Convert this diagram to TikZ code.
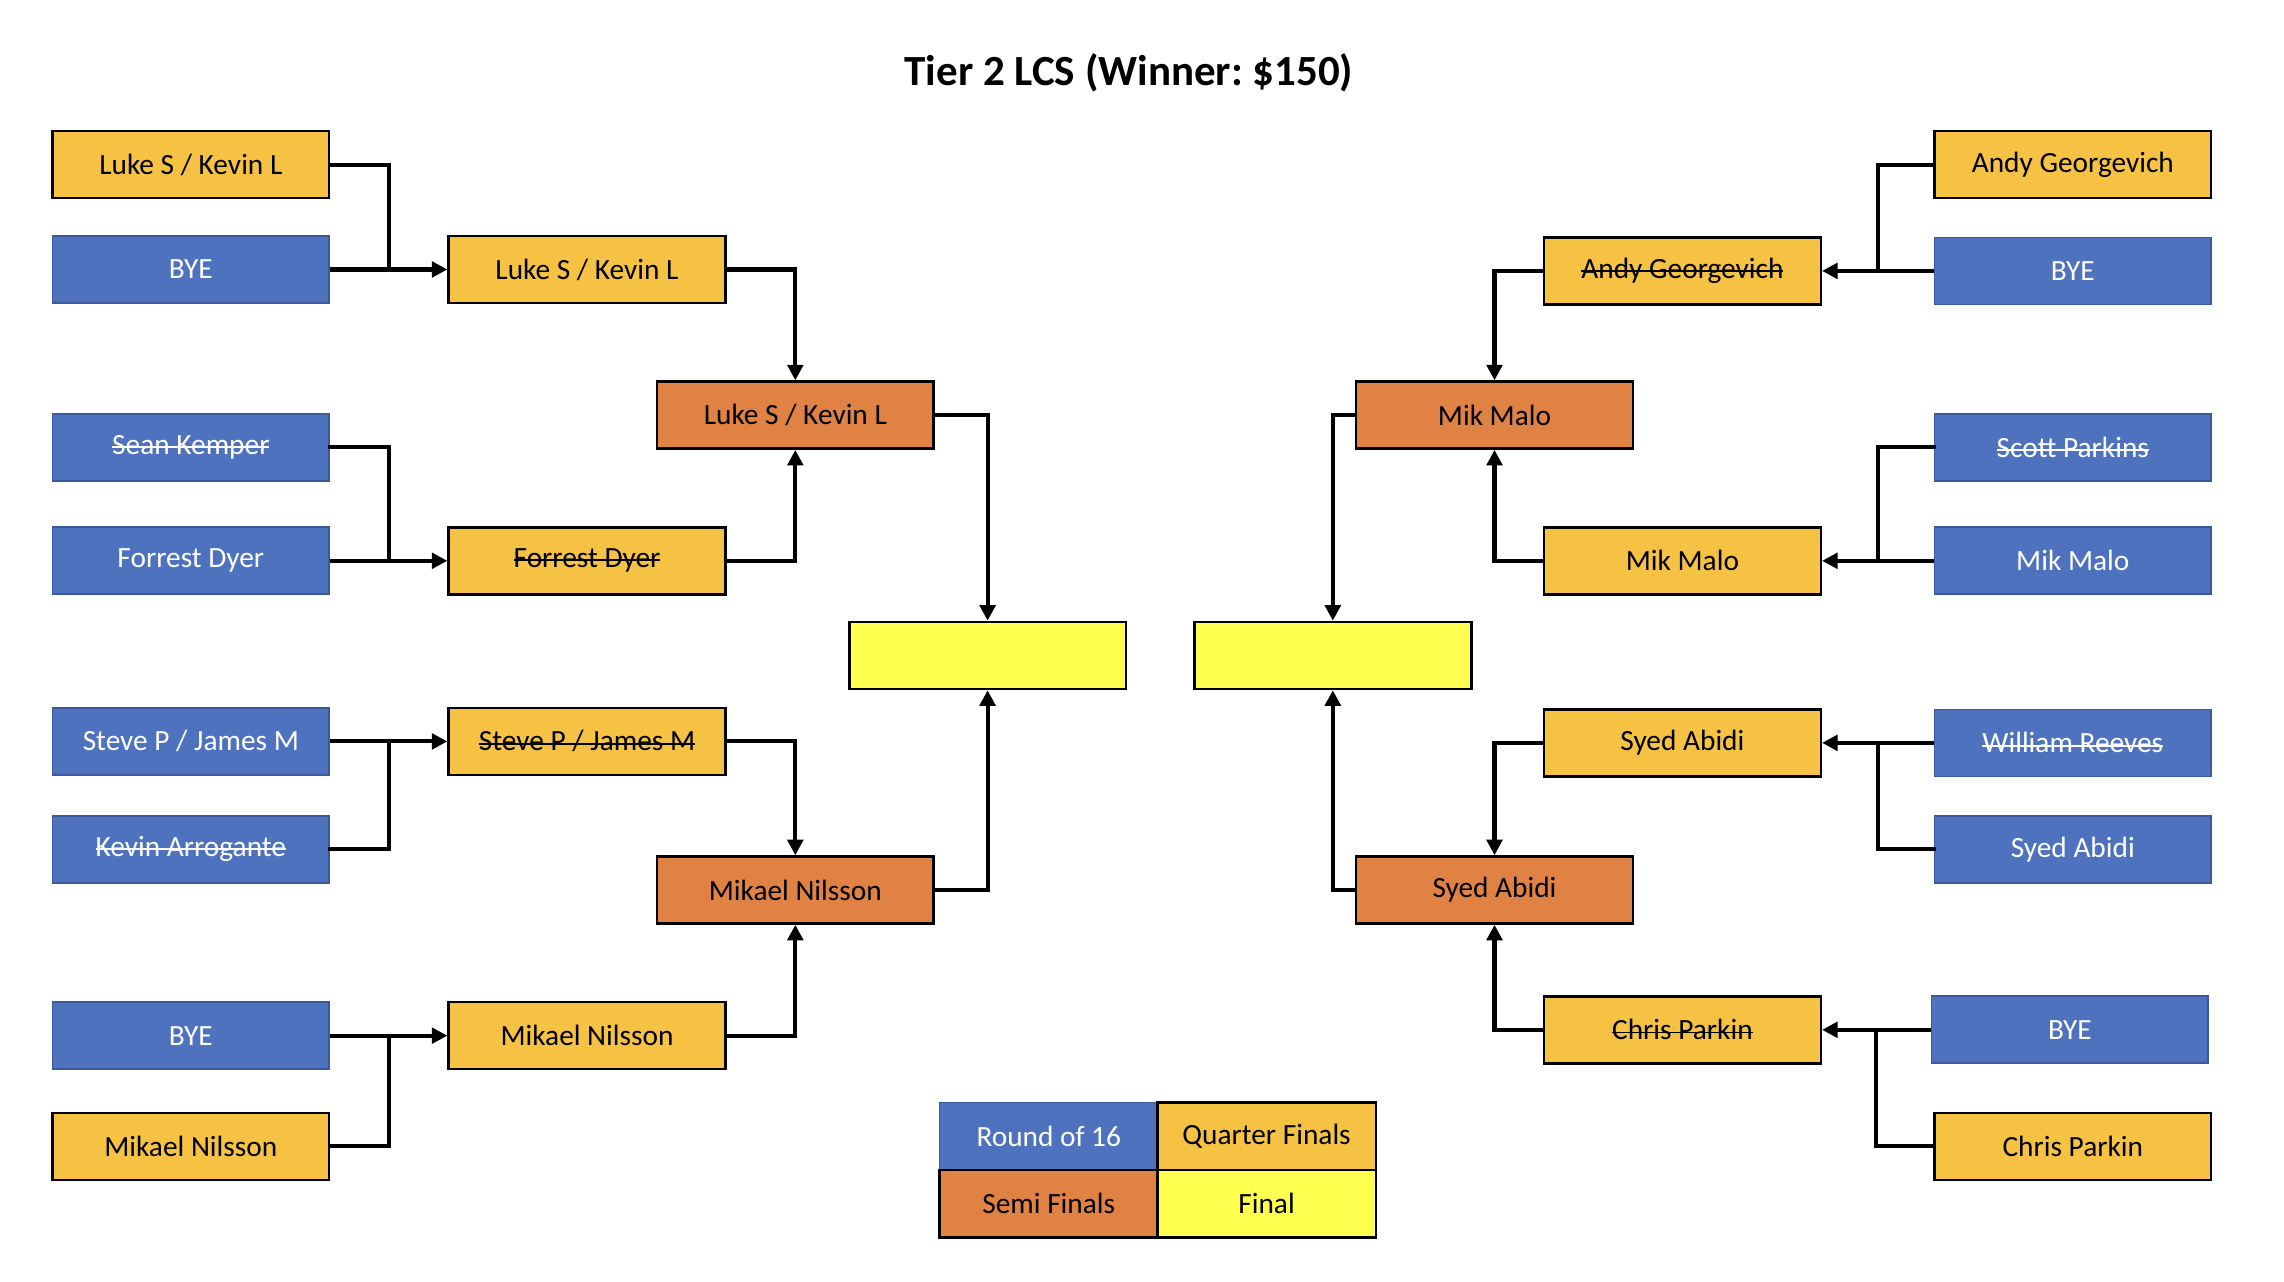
\documentclass[tikz,border=0pt]{standalone}
\usepackage{fontspec}
\setmainfont{Carlito}
\usepackage{tikz}
\usetikzlibrary{arrows.meta,positioning,calc}
\definecolor{brblue}{HTML}{4E72BE}
\definecolor{brblueline}{HTML}{3A5A9C}
\definecolor{brgold}{HTML}{F5C243}
\definecolor{brorange}{HTML}{E08244}
\definecolor{bryellow}{HTML}{FFFF50}
\newcommand{\struck}[1]{\leavevmode\setbox0\hbox{#1}\rlap{\raisebox{0.22em}{\rule{\wd0}{0.065em}}}\box0}
\frenchspacing

\begin{document}
\begin{tikzpicture}[x=0.03cm, y=-0.03cm, font=\fontsize{17.2}{20}\selectfont,
  slot/.style={rectangle, minimum width=5.7cm, minimum height=1.38cm, inner sep=0pt, line width=1.5pt, draw=black},
  rdsixteen/.style={slot, fill=brblue, draw=brblueline, line width=1pt, text=white},
  rdquarter/.style={slot, fill=brgold},
  rdsemi/.style={slot, fill=brorange},
  rdfinal/.style={slot, fill=bryellow},
  legcell/.style={minimum width=4.5cm, minimum height=1.39cm},
  link/.style={line width=2.4pt, line cap=rect},
  arr/.style={line width=2.4pt, -{Triangle[length=0.32cm,width=0.32cm]}}]
\useasboundingbox (0,0) rectangle (1568,880);
\node[font=\fontsize{25.2}{30}\selectfont\bfseries] (title) at (775,50) {Tier 2 LCS (Winner: \$150)};

\node[rdquarter] (l1) at (131,113) {Luke S / Kevin L};
\node[rdsixteen] (l2) at (131,185) {BYE};
\node[rdsixteen] (l3) at (131,307) {\struck{Sean Kemper}};
\node[rdsixteen] (l4) at (131,385) {Forrest Dyer};
\node[rdsixteen] (l5) at (131,509) {Steve P / James M};
\node[rdsixteen] (l6) at (131,583) {\struck{Kevin Arrogante}};
\node[rdsixteen] (l7) at (131,711) {BYE};
\node[rdquarter] (l8) at (131,787) {Mikael Nilsson};

\node[rdquarter] (lq1) at (403,185) {Luke S / Kevin L};
\node[rdquarter] (lq2) at (403,385) {\struck{Forrest Dyer}};
\node[rdquarter] (lq3) at (403,509) {\struck{Steve P / James M}};
\node[rdquarter] (lq4) at (403,711) {Mikael Nilsson};

\node[rdsemi] (ls1) at (546,285) {Luke S / Kevin L};
\node[rdsemi] (ls2) at (546,611) {Mikael Nilsson};

\node[rdfinal] (lf) at (678,450) {};
\node[rdfinal] (rf) at (915,450) {};

\node[rdsemi] (rs1) at (1026,285) {Mik Malo};
\node[rdsemi] (rs2) at (1026,611) {Syed Abidi};

\node[rdquarter] (rq1) at (1155,186) {\struck{Andy Georgevich}};
\node[rdquarter] (rq2) at (1155,385) {Mik Malo};
\node[rdquarter] (rq3) at (1155,510) {Syed Abidi};
\node[rdquarter] (rq4) at (1155,707) {\struck{Chris Parkin}};

\node[rdquarter] (r1) at (1423,113) {Andy Georgevich};
\node[rdsixteen] (r2) at (1423,186) {BYE};
\node[rdsixteen] (r3) at (1423,307) {\struck{Scott Parkins}};
\node[rdsixteen] (r4) at (1423,385) {Mik Malo};
\node[rdsixteen] (r5) at (1423,510) {\struck{William Reeves}};
\node[rdsixteen] (r6) at (1423,583) {Syed Abidi};
\node[rdsixteen] (r7) at (1421,707) {BYE};
\node[rdquarter] (r8) at (1423,787) {Chris Parkin};

\draw[link] (l1.east) -| ($(l2.east)!.5!(lq1.west)$);
\draw[arr] (l2.east) -- (lq1.west);
\draw[link] (l3.east) -| ($(l4.east)!.5!(lq2.west)$);
\draw[arr] (l4.east) -- (lq2.west);
\draw[arr] (l5.east) -- (lq3.west);
\draw[link] (l6.east) -| ($(l5.east)!.5!(lq3.west)$);
\draw[arr] (l7.east) -- (lq4.west);
\draw[link] (l8.east) -| ($(l7.east)!.5!(lq4.west)$);
\draw[arr] (lq1.east) -| (ls1.north);
\draw[arr] (lq2.east) -| (ls1.south);
\draw[arr] (lq3.east) -| (ls2.north);
\draw[arr] (lq4.east) -| (ls2.south);
\draw[arr] (ls1.east) -| (lf.north);
\draw[arr] (ls2.east) -| (lf.south);

\draw[link] (r1.west) -| ($(r2.west)!.5!(rq1.east)$);
\draw[arr] (r2.west) -- (rq1.east);
\draw[link] (r3.west) -| ($(r4.west)!.5!(rq2.east)$);
\draw[arr] (r4.west) -- (rq2.east);
\draw[arr] (r5.west) -- (rq3.east);
\draw[link] (r6.west) -| ($(r5.west)!.5!(rq3.east)$);
\draw[arr] (r7.west) -- (rq4.east);
\draw[link] (r8.west) -| ($(r7.west)!.5!(rq4.east)$);
\draw[arr] (rq1.west) -| (rs1.north);
\draw[arr] (rq2.west) -| (rs1.south);
\draw[arr] (rq3.west) -| (rs2.north);
\draw[arr] (rq4.west) -| (rs2.south);
\draw[arr] (rs1.west) -| (rf.north);
\draw[arr] (rs2.west) -| (rf.south);

\node[rdsixteen, legcell] (k16) at (720,780) {Round of 16};
\node[rdquarter, legcell] (kqf) at (869.5,780) {Quarter Finals};
\node[rdsemi, legcell] (ksf) at (720,826.5) {Semi Finals};
\node[rdfinal, legcell] (kfin) at (869.5,826.5) {Final};
\end{tikzpicture}
\end{document}
